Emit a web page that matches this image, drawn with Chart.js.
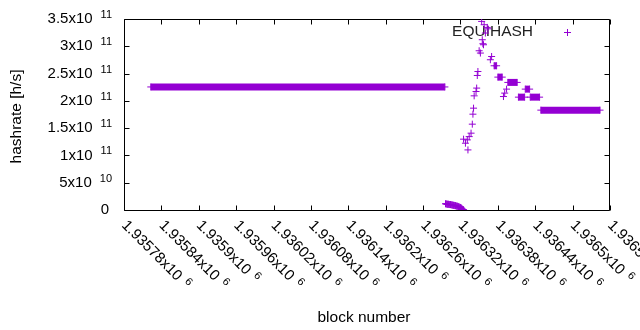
<!DOCTYPE html>
<html lang="en">
<head>
<meta charset="UTF-8">
<title>EQUIHASH hashrate</title>
<script src="https://cdn.jsdelivr.net/npm/chart.js@4/dist/chart.umd.min.js"></script>
<style>
  body { margin: 0; background: #fff; }
</style>
</head>
<body>
<canvas id="chart" width="640" height="330"></canvas>
<script>
// single blocks: block number and hashrate [h/s]
var pointBlocks = [
  1936296, 1936297, 1936298, 1936299, 1936300, 1936301, 1936302, 1936303, 1936304, 1936305,
  1936306, 1936307, 1936308, 1936309, 1936310, 1936311, 1936312, 1936313, 1936314, 1936315,
  1936316, 1936317, 1936318, 1936319, 1936320, 1936321, 1936322, 1936323, 1936324, 1936325,
  1936325, 1936328, 1936331, 1936332, 1936334, 1936337, 1936339, 1936340, 1936341, 1936342,
  1936345, 1936346, 1936347, 1936348, 1936350, 1936352, 1936354, 1936355, 1936356, 1936357,
  1936358, 1936360, 1936363, 1936364, 1936368, 1936370, 1936389, 1936391, 1936394
];
var pointRates = [
  11.5e9, 11e9, 11e9, 10.5e9, 10.5e9, 10.5e9, 10e9, 10e9, 10e9, 9.5e9,
  9.5e9, 9e9, 9e9, 8.5e9, 8.5e9, 8e9, 8e9, 7.5e9, 7e9, 7e9,
  6.5e9, 6e9, 5.5e9, 5e9, 4.5e9, 4e9, 3e9, 1.5e9, 0.8e9, 0.5e9,
  129.8e9, 122.4e9, 128.5e9, 110.1e9, 134.5e9, 140.8e9, 157.3e9, 175.6e9, 186.6e9, 209.2e9,
  217.1e9, 223.4e9, 246.5e9, 253.8e9, 291.8e9, 287.6e9, 345.6e9, 312e9, 304.7e9, 302.8e9,
  339.5e9, 324.3e9, 334.6e9, 332e9, 275.3e9, 281.3e9, 207.9e9, 214.2e9, 221.5e9
];

// runs of consecutive blocks with one hashrate
var runStart = [1935823, 1936374, 1936380, 1936396, 1936413, 1936424, 1936432, 1936449];
var runEnd   = [1936295, 1936378, 1936387, 1936411, 1936423, 1936431, 1936447, 1936544];
var runRate  = [225.5e9, 264.3e9, 243.5e9, 233.8e9, 206.8e9, 221.5e9, 206.8e9, 183e9];

var xTickValues = [1935780, 1935840, 1935900, 1935960, 1936020, 1936080, 1936140,
                   1936200, 1936260, 1936320, 1936380, 1936440, 1936500, 1936560];
var xTickLabels = ['1.93578x10^6', '1.93584x10^6', '1.9359x10^6', '1.93596x10^6',
                   '1.93602x10^6', '1.93608x10^6', '1.93614x10^6', '1.9362x10^6',
                   '1.93626x10^6', '1.93632x10^6', '1.93638x10^6', '1.93644x10^6',
                   '1.9365x10^6', '1.93656x10^6'];
var yTickValues = [0, 5e10, 1e11, 1.5e11, 2e11, 2.5e11, 3e11, 3.5e11];
var yTickLabels = ['0', '5x10^10', '1x10^11', '1.5x10^11', '2x10^11', '2.5x10^11', '3x10^11', '3.5x10^11'];

var seriesName = 'EQUIHASH';
var purple = '#9400d3';
var FONT = '"Liberation Sans", Arial, sans-serif';
var tickSize = 15;
var titleSize = 15.5;
var supSize = 11;

var datasets = [{
  type: 'scatter',
  data: pointBlocks.map(function (b, i) { return { x: b, y: pointRates[i] }; }),
  pointStyle: 'cross',
  pointRadius: 3.5,
  pointBorderWidth: 1,
  pointBorderColor: purple,
  pointBackgroundColor: purple
}];
for (var i = 0; i < runStart.length; i++) {
  datasets.push({
    type: 'line',
    data: [{ x: runStart[i], y: runRate[i] }, { x: runEnd[i], y: runRate[i] }],
    borderColor: purple,
    borderWidth: 7,
    pointStyle: 'cross',
    pointRadius: 3.5,
    pointBorderWidth: 1,
    pointBorderColor: purple,
    pointBackgroundColor: purple
  });
}

// tick text with an optional ^exponent, gnuplot enhanced-text style
function supWidth(ctx, label, gap) {
  var parts = label.split('^');
  ctx.font = tickSize + 'px ' + FONT;
  var w = ctx.measureText(parts[0]).width;
  if (parts[1]) {
    ctx.font = supSize + 'px ' + FONT;
    w += gap + ctx.measureText(parts[1]).width;
  }
  return w;
}
function drawSup(ctx, label, x, y, gap) {
  var parts = label.split('^');
  ctx.textAlign = 'left';
  ctx.textBaseline = 'middle';
  ctx.font = tickSize + 'px ' + FONT;
  ctx.fillText(parts[0], x, y);
  if (parts[1]) {
    var w = ctx.measureText(parts[0]).width;
    ctx.font = supSize + 'px ' + FONT;
    ctx.fillText(parts[1], x + w + gap, y - 4);
  }
}

var gnuplotFrame = {
  id: 'gnuplotFrame',
  beforeDatasetsDraw: function (chart) {
    var ctx = chart.ctx, a = chart.chartArea;
    var xs = chart.scales.x, ys = chart.scales.y;
    var L = Math.round(a.left) + 0.5, R = Math.round(a.right) - 0.5;
    var T = Math.round(a.top) + 0.5, B = Math.round(a.bottom) + 0.5;
    ctx.save();
    ctx.strokeStyle = '#000';
    ctx.lineWidth = 1;
    ctx.beginPath();
    ctx.rect(L, T, R - L, B - T);
    xTickValues.forEach(function (v) {
      var px = Math.round(xs.getPixelForValue(v)) + 0.5;
      ctx.moveTo(px, B); ctx.lineTo(px, B - 5);
      ctx.moveTo(px, T); ctx.lineTo(px, T + 5);
    });
    yTickValues.forEach(function (v) {
      var py = Math.round(ys.getPixelForValue(v)) + 0.5;
      ctx.moveTo(L, py); ctx.lineTo(L + 5, py);
      ctx.moveTo(R, py); ctx.lineTo(R - 5, py);
    });
    ctx.stroke();

    ctx.fillStyle = '#000';
    // y tick labels
    yTickValues.forEach(function (v, i) {
      var py = ys.getPixelForValue(v);
      var lab = yTickLabels[i];
      var w = supWidth(ctx, lab, 8);
      drawSup(ctx, lab, (lab.indexOf('^') < 0 ? 109 : 112) - w, py, 8);
    });
    // x tick labels, rotated
    xTickValues.forEach(function (v, i) {
      var px = xs.getPixelForValue(v);
      ctx.save();
      ctx.translate(px, 223);
      ctx.rotate(Math.PI / 4);
      drawSup(ctx, xTickLabels[i], 0, 0, 6);
      ctx.restore();
    });
    // axis titles
    ctx.font = titleSize + 'px ' + FONT;
    ctx.textAlign = 'center';
    ctx.textBaseline = 'middle';
    ctx.fillText('block number', 364, 318);
    ctx.save();
    ctx.translate(17, 116.5);
    ctx.rotate(-Math.PI / 2);
    ctx.fillText('hashrate [h/s]', 0, 0);
    ctx.restore();

    // key
    ctx.textAlign = 'right';
    ctx.fillStyle = '#222';
    ctx.fillText(seriesName, 533, 32);
    ctx.strokeStyle = purple;
    ctx.beginPath();
    ctx.moveTo(564, 32.5); ctx.lineTo(571, 32.5);
    ctx.moveTo(567.5, 29); ctx.lineTo(567.5, 36);
    ctx.stroke();
    ctx.restore();
  }
};

new Chart(document.getElementById('chart'), {
  data: { datasets: datasets },
  options: {
    responsive: false,
    animation: false,
    devicePixelRatio: 1,
    layout: { padding: { left: 124, top: 19, right: 30, bottom: 120 } },
    scales: {
      x: { type: 'linear', display: false, min: 1935780, max: 1936560 },
      y: { type: 'linear', display: false, min: 0, max: 3.5e11 }
    },
    plugins: { legend: { display: false }, tooltip: { enabled: false } }
  },
  plugins: [gnuplotFrame]
});
</script>
</body>
</html>
